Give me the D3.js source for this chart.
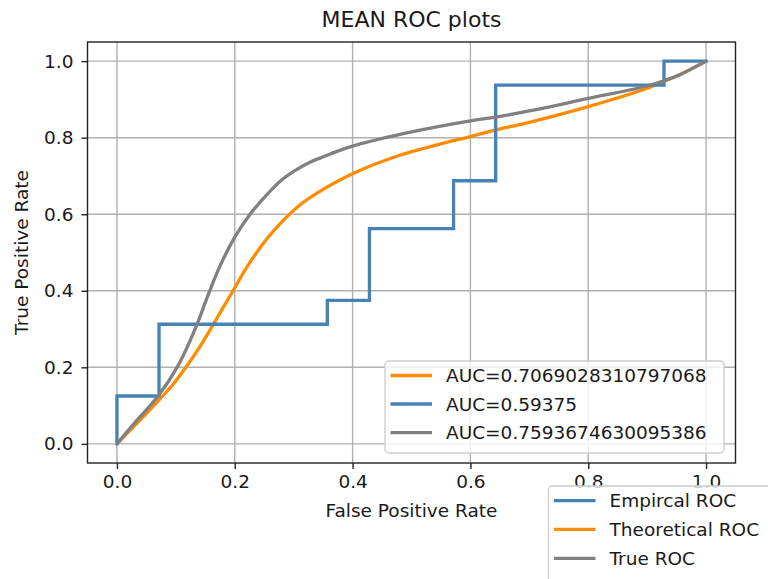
<!DOCTYPE html>
<html>
<head>
<meta charset="utf-8">
<script src="https://cdn.jsdelivr.net/npm/d3@7"></script>
<style>
  html, body { margin: 0; padding: 0; background: #fff; }
  svg { display: block; }
  text { font-family: "DejaVu Sans", sans-serif; fill: #1a1a1a; }
</style>
</head>
<body>
<svg id="chart" width="768" height="579"></svg>
<script>
// ---- data ----
const xTicks = [0.0, 0.2, 0.4, 0.6, 0.8, 1.0];
const yTicks = [0.0, 0.2, 0.4, 0.6, 0.8, 1.0];
const xTickLabels = ["0.0", "0.2", "0.4", "0.6", "0.8", "1.0"];
const yTickLabels = ["0.0", "0.2", "0.4", "0.6", "0.8", "1.0"];

// Empirical ROC (step points)
const empFpr = [0, 0, 0.0714, 0.0714, 0.3571, 0.3571, 0.4286, 0.4286, 0.5714, 0.5714, 0.6429, 0.6429, 0.9286, 0.9286, 1.0];
const empTpr = [0, 0.125, 0.125, 0.3125, 0.3125, 0.375, 0.375, 0.5625, 0.5625, 0.6875, 0.6875, 0.9375, 0.9375, 1.0, 1.0];

// Theoretical ROC
const theoFpr = [0, 0.033, 0.07, 0.095, 0.118, 0.14, 0.1635, 0.197, 0.226, 0.265, 0.311, 0.35, 0.4, 0.48, 0.55, 0.6, 0.64, 0.7, 0.8, 0.9, 0.926, 0.96, 1.0];
const theoTpr = [0, 0.052, 0.112, 0.155, 0.202, 0.252, 0.312, 0.40, 0.475, 0.555, 0.625, 0.665, 0.706, 0.754, 0.784, 0.803, 0.819, 0.84, 0.881, 0.929, 0.946, 0.968, 1.0];

// True ROC
const trueFpr = [0, 0.033, 0.07, 0.104, 0.134, 0.155, 0.175, 0.2, 0.226, 0.255, 0.28, 0.3, 0.325, 0.35, 0.375, 0.4, 0.5, 0.6, 0.64, 0.7, 0.8, 0.9, 0.926, 0.96, 1.0];
const trueTpr = [0, 0.06, 0.125, 0.205, 0.305, 0.39, 0.465, 0.54, 0.60, 0.652, 0.69, 0.712, 0.734, 0.75, 0.765, 0.778, 0.815, 0.844, 0.853, 0.87, 0.9025, 0.935, 0.947, 0.968, 1.0];

const aucLabels = ["AUC=0.7069028310797068", "AUC=0.59375", "AUC=0.7593674630095386"];
const nameLabels = ["Empircal ROC", "Theoretical ROC", "True ROC"];

const title = "MEAN ROC plots";
const xLabel = "False Positive Rate";
const yLabel = "True Positive Rate";

// ---- styles ----
const C_BLUE = "#4682b4", C_ORANGE = "#ff8c00", C_GRAY = "#808080";
const FS = 18.5;

const svg = d3.select("#chart");
const L = 87.5, R = 735.5, T = 42, B = 463;

const x = d3.scaleLinear().domain([-0.05, 1.05]).range([L, R]);
const y = d3.scaleLinear().domain([-0.05, 1.05]).range([B, T]);

// grid
const g = svg.append("g");
g.selectAll("line.gx").data(xTicks).enter().append("line")
  .attr("x1", d => x(d)).attr("x2", d => x(d)).attr("y1", T).attr("y2", B)
  .attr("stroke", "#b0b0b0").attr("stroke-width", 1.4);
g.selectAll("line.gy").data(yTicks).enter().append("line")
  .attr("y1", d => y(d)).attr("y2", d => y(d)).attr("x1", L).attr("x2", R)
  .attr("stroke", "#b0b0b0").attr("stroke-width", 1.4);

// axes
const xAxis = d3.axisBottom(x).tickValues(xTicks).tickFormat((d, i) => xTickLabels[i]).tickSize(6).tickPadding(6);
const yAxis = d3.axisLeft(y).tickValues(yTicks).tickFormat((d, i) => yTickLabels[i]).tickSize(6).tickPadding(8);
const gx = svg.append("g").attr("transform", `translate(0,${B})`).call(xAxis);
const gy = svg.append("g").attr("transform", `translate(${L},0)`).call(yAxis);
[gx, gy].forEach(a => {
  a.select(".domain").remove();
  a.selectAll(".tick line").attr("stroke", "#222").attr("stroke-width", 1.4);
  a.selectAll(".tick text").style("font-family", "DejaVu Sans").style("font-size", FS + "px").attr("fill", "#1a1a1a");
});

// lines
const lineGen = d3.line().x(d => x(d[0])).y(d => y(d[1]));
const smoothGen = d3.line().x(d => x(d[0])).y(d => y(d[1])).curve(d3.curveCatmullRom.alpha(0.5));
const plotArea = svg.append("g");
plotArea.append("path").datum(theoFpr.map((v, i) => [v, theoTpr[i]]))
  .attr("d", smoothGen).attr("fill", "none").attr("stroke", C_ORANGE).attr("stroke-width", 3.3);
plotArea.append("path").datum(empFpr.map((v, i) => [v, empTpr[i]]))
  .attr("d", lineGen).attr("fill", "none").attr("stroke", C_BLUE).attr("stroke-width", 3.3)
  .attr("stroke-linejoin", "miter").attr("stroke-linecap", "square");
plotArea.append("path").datum(trueFpr.map((v, i) => [v, trueTpr[i]]))
  .attr("d", smoothGen).attr("fill", "none").attr("stroke", C_GRAY).attr("stroke-width", 3.3);

// frame
svg.append("rect").attr("x", L).attr("y", T).attr("width", R - L).attr("height", B - T)
  .attr("fill", "none").attr("stroke", "#222").attr("stroke-width", 1.4);

// title & labels
svg.append("text").attr("x", (L + R) / 2).attr("y", 27).attr("text-anchor", "middle")
  .style("font-size", "22px").text(title);
svg.append("text").attr("x", (L + R) / 2).attr("y", 517).attr("text-anchor", "middle")
  .style("font-size", FS + "px").text(xLabel);
svg.append("text").attr("transform", `translate(28,${(T + B) / 2}) rotate(-90)`).attr("text-anchor", "middle")
  .style("font-size", FS + "px").text(yLabel);

// legends
function legend(x0, y0, w, h, colors, labels, rowY) {
  const lg = svg.append("g");
  lg.append("rect").attr("x", x0).attr("y", y0).attr("width", w).attr("height", h)
    .attr("rx", 4).attr("fill", "white").attr("fill-opacity", 0.8)
    .attr("stroke", "#cccccc").attr("stroke-width", 1.3);
  labels.forEach((lab, i) => {
    const yy = rowY[i];
    lg.append("line").attr("x1", x0 + 5.5).attr("x2", x0 + 47).attr("y1", yy).attr("y2", yy)
      .attr("stroke", colors[i]).attr("stroke-width", 3.3);
    lg.append("text").attr("x", x0 + 61).attr("y", yy).attr("dy", "0.36em")
      .style("font-size", FS + "px").text(lab);
  });
}
legend(385, 361, 339, 92, [C_ORANGE, C_BLUE, C_GRAY], aucLabels, [375.5, 404, 432.7]);
legend(548.5, 486, 240, 110, [C_BLUE, C_ORANGE, C_GRAY], nameLabels, [500.7, 529.3, 558.3]);
</script>
</body>
</html>
